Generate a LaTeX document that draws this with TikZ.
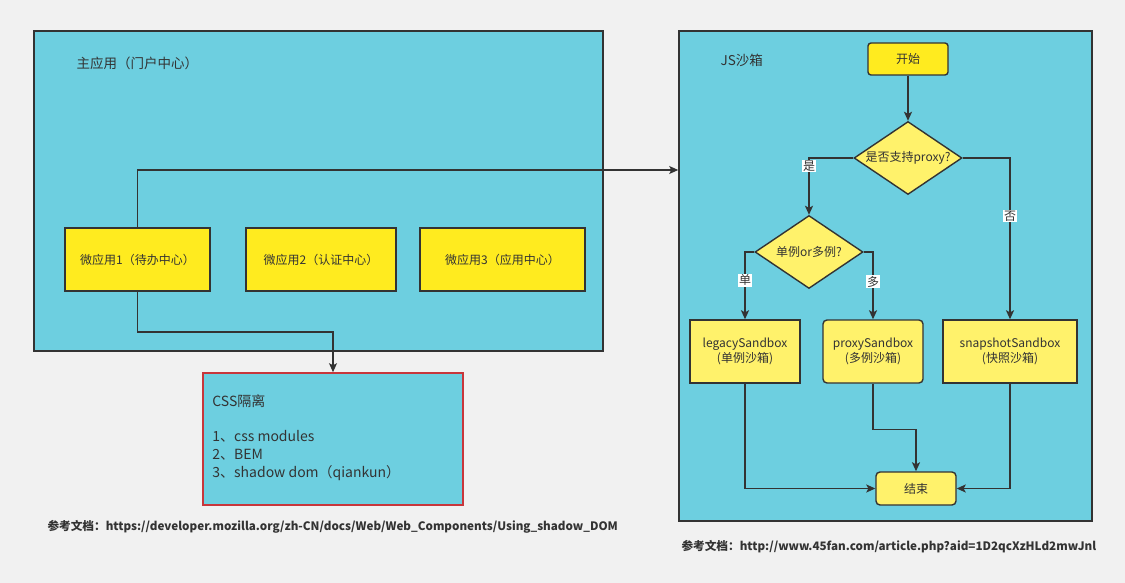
\documentclass[tikz,border=0pt]{standalone}
\usepackage{fontspec}
\setmainfont{Noto Sans CJK SC}
\usetikzlibrary{arrows.meta,positioning,shapes.geometric}
\definecolor{pagegray}{HTML}{F1F1F1}
\definecolor{boxcyan}{HTML}{6DCFE0}
\definecolor{appyellow}{HTML}{FFEB1F}
\definecolor{flowyellow}{HTML}{FFF26B}
\definecolor{linegray}{HTML}{333333}
\definecolor{cssred}{HTML}{C8363B}
\begin{document}
\begin{tikzpicture}[x=1pt,y=-1pt,>={Stealth[length=9pt,width=8pt,inset=2pt]},
  every node/.style={font=\fontsize{12}{15}\selectfont,text=linegray},
  frame/.style={draw=linegray,line width=1.6pt,fill=boxcyan,inner sep=0},
  appbox/.style={draw=linegray,line width=1.6pt,fill=appyellow,minimum width=145pt,minimum height=63pt},
  flowbox/.style={draw=linegray,line width=1.4pt,fill=flowyellow,minimum height=63pt,align=center},
  decision/.style={draw=linegray,line width=1.4pt,fill=flowyellow,diamond,aspect=1.5,inner sep=0,minimum width=108pt,minimum height=73pt},
  lbl/.style={fill=white,inner sep=1pt},
  refnote/.style={anchor=west,font=\bfseries\fontsize{11.65}{14}\selectfont},
  link/.style={->,draw=linegray,line width=1.4pt}]
\fill[pagegray] (0,0) rectangle (1125,583);
\useasboundingbox (0,0) rectangle (1125,583);
\node[frame,minimum width=569pt,minimum height=320pt] (main) at (318.5,191) {};
\node[anchor=west,font=\fontsize{13.5}{16}\selectfont] (maintitle) at (73,63) {主应用（门户中心）};
\node[appbox] (app1) at (137.5,259.5) {微应用1（待办中心）};
\node[appbox,minimum width=150pt] (app2) at (321,259.5) {微应用2（认证中心）};
\node[appbox,minimum width=165pt] (app3) at (502.5,259.5) {微应用3（应用中心）};
\node[frame,draw=cssred,minimum width=260pt,minimum height=132pt] (css) at (333,439) {};
\node[anchor=north west,inner sep=0,align=left,font=\fontsize{14}{17.7}\selectfont] (csstext) at ([xshift=10pt,yshift=-22pt]css.north west) {CSS隔离\\[17.7pt]1、css modules\\2、BEM\\3、shadow dom（qiankun）};
\node[frame,minimum width=413pt,minimum height=490pt] (js) at (885.5,276) {};
\node[anchor=west,font=\fontsize{13.5}{16}\selectfont] (jstitle) at (717,60) {JS沙箱};
\node[draw=linegray,line width=1.4pt,fill=appyellow,rounded corners=3pt,minimum width=80pt,minimum height=32pt] (start) at (908,59) {开始};
\node[decision] (proxyq) at (908,158) {是否支持proxy?};
\node[decision] (modeq) at (809,252) {单例or多例?};
\node[flowbox,minimum width=110pt] (legacy) at (745,351.5) {legacySandbox\\(单例沙箱)};
\node[flowbox,rounded corners=4pt,minimum width=100pt] (proxy) at (873,351.5) {proxySandbox\\(多例沙箱)};
\node[flowbox,minimum width=134pt] (snapshot) at (1010,351.5) {snapshotSandbox\\(快照沙箱)};
\node[flowbox,rounded corners=4pt,minimum width=80pt,minimum height=33pt] (finish) at (916,488.5) {结束};
\coordinate (jsin) at (js.west |- 0,170);
\draw[link] (app1.north) |- (jsin);
\draw[link] (app1.south) -- ++(0,40) -| (css.north);
\draw[link] (start) -- (proxyq);
\draw[link] (proxyq.west) -| node[lbl,pos=0.57]{是} (modeq.north);
\draw[link] (proxyq.east) -| node[lbl,pos=0.68]{否} (snapshot.north);
\draw[link] (modeq.west) -| node[lbl,pos=0.71]{单} (legacy.north);
\draw[link] (modeq.east) -| node[lbl,pos=0.72]{多} (proxy.north);
\draw[link] (legacy) |- (finish);
\draw[link] (snapshot) |- (finish);
\draw[link] (proxy.south) -- ++(0,46) -| (finish);
\node[refnote] (mdnref) at (44,527) {参考文档：https://developer.mozilla.org/zh-CN/docs/Web/Web\_Components/Using\_shadow\_DOM};
\node[refnote] (fanref) at (678,547) {参考文档：http://www.45fan.com/article.php?aid=1D2qcXzHLd2mwJnl};
\end{tikzpicture}
\end{document}
